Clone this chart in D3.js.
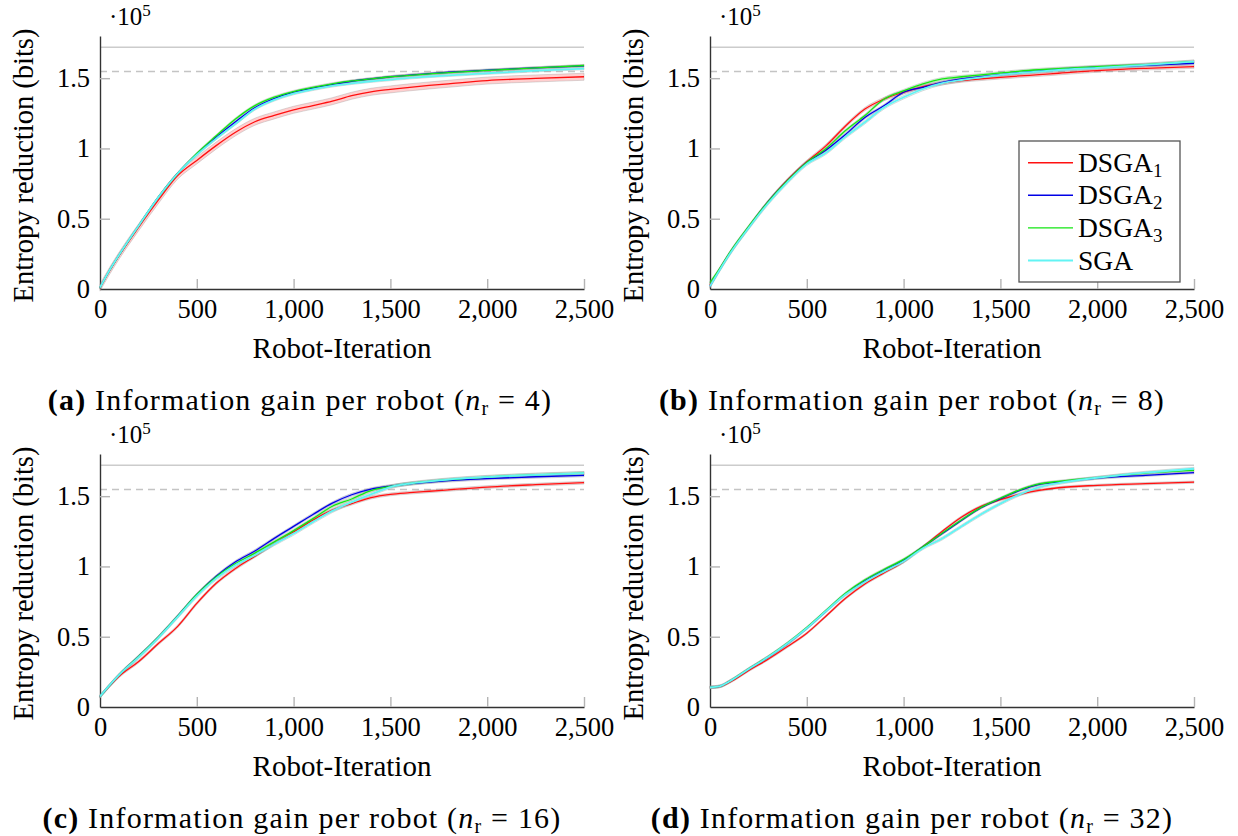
<!DOCTYPE html>
<html>
<head>
<meta charset="utf-8">
<script src="https://cdn.jsdelivr.net/npm/d3@7"></script>
<style>
  body { margin: 0; background: #fff; }
  text { font-family: "Liberation Serif", "DejaVu Serif", serif; fill: #000; }
</style>
</head>
<body>
<svg id="fig" width="1238" height="836"></svg>
<script>
const iters = [0, 50, 100, 200, 300, 400, 500, 600, 700, 800, 900, 1000, 1100, 1200, 1300, 1400, 1500, 1600, 1700, 1800, 2000, 2250, 2500];

const seriesNames = ["DSGA", "DSGA", "DSGA", "SGA"];
const seriesSubs = ["1", "2", "3", ""];
const seriesColors = ["#ff1010", "#0000e6", "#12e612", "#62f4f4"];

// entropy reduction, units of 1e5 bits
// n_r = 4
const nr4_dsga1 = [0.01, 0.13, 0.24, 0.44, 0.63, 0.805, 0.915, 1.02, 1.115, 1.19, 1.235, 1.275, 1.305, 1.336, 1.375, 1.403, 1.42, 1.435, 1.448, 1.46, 1.483, 1.498, 1.51];
const nr4_dsga2 = [0.01, 0.135, 0.245, 0.45, 0.65, 0.82, 0.96, 1.08, 1.19, 1.29, 1.355, 1.40, 1.43, 1.455, 1.478, 1.495, 1.51, 1.522, 1.532, 1.542, 1.557, 1.573, 1.588];
const nr4_dsga3 = [0.01, 0.135, 0.245, 0.45, 0.65, 0.82, 0.965, 1.09, 1.21, 1.305, 1.365, 1.405, 1.435, 1.46, 1.48, 1.495, 1.51, 1.52, 1.53, 1.54, 1.555, 1.573, 1.59];
const nr4_sga   = [0.01, 0.135, 0.245, 0.45, 0.65, 0.82, 0.955, 1.07, 1.175, 1.28, 1.345, 1.39, 1.42, 1.445, 1.463, 1.478, 1.49, 1.502, 1.512, 1.52, 1.535, 1.553, 1.568];
// n_r = 8
const nr8_dsga1 = [0.03, 0.14, 0.25, 0.44, 0.62, 0.775, 0.905, 1.02, 1.16, 1.28, 1.352, 1.40, 1.44, 1.464, 1.483, 1.495, 1.506, 1.516, 1.525, 1.535, 1.554, 1.57, 1.582];
const nr8_dsga2 = [0.02, 0.14, 0.25, 0.44, 0.62, 0.77, 0.90, 0.99, 1.10, 1.22, 1.305, 1.40, 1.435, 1.47, 1.495, 1.51, 1.525, 1.54, 1.552, 1.563, 1.578, 1.592, 1.606];
const nr8_dsga3 = [0.045, 0.145, 0.255, 0.445, 0.62, 0.77, 0.90, 1.0, 1.127, 1.234, 1.352, 1.41, 1.46, 1.495, 1.51, 1.523, 1.537, 1.55, 1.56, 1.568, 1.582, 1.597, 1.618];
const nr8_sga   = [0.02, 0.135, 0.245, 0.435, 0.61, 0.76, 0.89, 0.97, 1.084, 1.186, 1.293, 1.364, 1.423, 1.464, 1.487, 1.506, 1.523, 1.537, 1.548, 1.558, 1.573, 1.594, 1.618];
// n_r = 16
const nr16_dsga1 = [0.075, 0.15, 0.22, 0.324, 0.45, 0.572, 0.737, 0.88, 0.986, 1.073, 1.163, 1.246, 1.33, 1.40, 1.447, 1.49, 1.513, 1.525, 1.535, 1.545, 1.565, 1.582, 1.596];
const nr16_dsga2 = [0.075, 0.155, 0.23, 0.36, 0.495, 0.645, 0.80, 0.93, 1.033, 1.11, 1.20, 1.285, 1.37, 1.45, 1.51, 1.55, 1.572, 1.588, 1.60, 1.61, 1.625, 1.638, 1.648];
const nr16_dsga3 = [0.075, 0.155, 0.23, 0.36, 0.495, 0.645, 0.80, 0.925, 1.02, 1.095, 1.175, 1.255, 1.34, 1.428, 1.48, 1.54, 1.57, 1.59, 1.605, 1.617, 1.636, 1.652, 1.664];
const nr16_sga   = [0.075, 0.155, 0.23, 0.355, 0.49, 0.64, 0.79, 0.915, 1.01, 1.08, 1.16, 1.234, 1.317, 1.395, 1.458, 1.513, 1.565, 1.59, 1.605, 1.618, 1.636, 1.652, 1.664];
// n_r = 32
const nr32_dsga1 = [0.14, 0.145, 0.175, 0.26, 0.34, 0.43, 0.525, 0.648, 0.773, 0.875, 0.955, 1.033, 1.14, 1.25, 1.352, 1.428, 1.475, 1.513, 1.541, 1.56, 1.577, 1.589, 1.60];
const nr32_dsga2 = [0.14, 0.147, 0.182, 0.27, 0.355, 0.45, 0.56, 0.683, 0.804, 0.898, 0.974, 1.045, 1.14, 1.234, 1.329, 1.418, 1.482, 1.541, 1.584, 1.60, 1.628, 1.648, 1.667];
const nr32_dsga3 = [0.14, 0.147, 0.182, 0.272, 0.358, 0.455, 0.565, 0.688, 0.81, 0.905, 0.98, 1.05, 1.14, 1.238, 1.332, 1.42, 1.485, 1.545, 1.587, 1.605, 1.632, 1.664, 1.683];
const nr32_sga   = [0.14, 0.147, 0.182, 0.27, 0.355, 0.452, 0.56, 0.683, 0.80, 0.89, 0.965, 1.035, 1.13, 1.199, 1.286, 1.371, 1.447, 1.513, 1.565, 1.593, 1.631, 1.667, 1.695];

// half width of the shaded bands (same units)
const spread4 = [0.025, 0.008, 0.008, 0.008];
const spread8 = [0.012, 0.01, 0.01, 0.012];
const spread16 = [0.01, 0.01, 0.01, 0.012];
const spread32 = [0.008, 0.008, 0.008, 0.01];

const maxEntropy = 1.72;        // solid grey line
const maxEntropy90 = 1.548;     // dashed grey line
const xTicks = [0, 500, 1000, 1500, 2000, 2500];
const yTicks = [0, 0.5, 1, 1.5];

const panelLetters = ["a", "b", "c", "d"];
const robotCounts = [4, 8, 16, 32];

const panels = [
  { data: [nr4_dsga1, nr4_dsga2, nr4_dsga3, nr4_sga], spread: spread4, left: 100, top: 36, capX: 300, legend: false },
  { data: [nr8_dsga1, nr8_dsga2, nr8_dsga3, nr8_sga], spread: spread8, left: 710, top: 36, capX: 912, legend: true },
  { data: [nr16_dsga1, nr16_dsga2, nr16_dsga3, nr16_sga], spread: spread16, left: 100, top: 454, capX: 302, legend: false },
  { data: [nr32_dsga1, nr32_dsga2, nr32_dsga3, nr32_sga], spread: spread32, left: 710, top: 454, capX: 912, legend: false }
];

const W = 484, H = 253;
const svg = d3.select("#fig");

panels.forEach(function (p, pi) {
  const x = d3.scaleLinear().domain([0, 2500]).range([p.left, p.left + W]);
  const y = d3.scaleLinear().domain([0, 1.8]).range([p.top + H, p.top]);
  const g = svg.append("g");

  // reference lines
  g.append("line")
    .attr("x1", x(0)).attr("x2", x(2500))
    .attr("y1", y(maxEntropy)).attr("y2", y(maxEntropy))
    .attr("stroke", "#cccccc").attr("stroke-width", 1.6);
  g.append("line")
    .attr("x1", x(0)).attr("x2", x(2500))
    .attr("y1", y(maxEntropy90)).attr("y2", y(maxEntropy90))
    .attr("stroke", "#c4c4c4").attr("stroke-width", 1.5)
    .attr("stroke-dasharray", "7,5");

  // axes
  const xAxis = g.append("g")
    .attr("transform", `translate(0,${y(0)})`)
    .call(d3.axisBottom(x).tickValues(xTicks).tickSizeInner(-10).tickSizeOuter(0)
      .tickPadding(10.5).tickFormat(d3.format(",")));
  const yAxis = g.append("g")
    .attr("transform", `translate(${x(0)},0)`)
    .call(d3.axisLeft(y).tickValues(yTicks).tickSizeInner(-10).tickSizeOuter(0)
      .tickPadding(10).tickFormat(function (d) { return String(d); }));
  [xAxis, yAxis].forEach(function (a) {
    a.select(".domain").attr("stroke", "#333").attr("stroke-width", 1.4);
    a.selectAll(".tick line").attr("stroke", "#b4b4b4").attr("stroke-width", 1.4);
    a.selectAll("text").attr("font-size", 26.5).attr("fill", "#000")
      .style("font-family", '"Liberation Serif", serif');
  });
  xAxis.selectAll(".tick").filter(function (d) { return d === 0; }).select("line").remove();
  yAxis.selectAll(".tick").filter(function (d) { return d === 0; }).select("line").remove();

  // bands then lines
  const area = d3.area()
    .x(function (d, i) { return x(iters[i]); })
    .curve(d3.curveMonotoneX);
  const line = d3.line()
    .x(function (d, i) { return x(iters[i]); })
    .y(function (d) { return y(d); })
    .curve(d3.curveMonotoneX);

  p.data.forEach(function (vals, si) {
    const s = p.spread[si];
    g.append("path")
      .attr("d", area.y0(function (d) { return y(d - s); }).y1(function (d) { return y(d + s); })(vals))
      .attr("fill", seriesColors[si]).attr("fill-opacity", 0.2)
      .attr("stroke", "#999").attr("stroke-opacity", 0.35).attr("stroke-width", 1);
  });
  p.data.forEach(function (vals, si) {
    g.append("path")
      .attr("d", line(vals))
      .attr("fill", "none")
      .attr("stroke", seriesColors[si])
      .attr("stroke-width", si === 3 ? 1.8 : 1.3);
  });

  // scale label  ·10^5
  const sc = g.append("text").attr("x", x(0) + 9).attr("y", p.top - 11).attr("font-size", 25);
  sc.append("tspan").text("·10");
  sc.append("tspan").attr("font-size", 17).attr("dy", -9).text("5");

  // axis titles
  g.append("text")
    .attr("transform", `translate(${x(0) - 67},${p.top + H / 2 + 3}) rotate(-90)`)
    .attr("text-anchor", "middle").attr("font-size", 28.5)
    .text("Entropy reduction (bits)");
  g.append("text")
    .attr("x", x(1250)).attr("y", y(0) + 69)
    .attr("text-anchor", "middle").attr("font-size", 29)
    .text("Robot-Iteration");

  // caption
  const cap = g.append("text")
    .attr("x", p.capX).attr("y", y(0) + 121)
    .attr("text-anchor", "middle").attr("font-size", 30)
    .attr("letter-spacing", 1.2);
  cap.append("tspan").attr("font-weight", "bold").text("(" + panelLetters[pi] + ")");
  cap.append("tspan").text(" Information gain per robot (");
  cap.append("tspan").attr("font-style", "italic").text("n");
  cap.append("tspan").attr("font-size", 20).attr("dy", 5).text("r");
  cap.append("tspan").attr("dy", -5).text(" = " + robotCounts[pi] + ")");

  // legend
  if (p.legend) {
    const lg = g.append("g");
    lg.append("rect")
      .attr("x", 1019).attr("y", 141).attr("width", 161).attr("height", 141)
      .attr("fill", "#fff").attr("stroke", "#555").attr("stroke-width", 1.3);
    seriesNames.forEach(function (name, i) {
      const cy = 162.7 + i * 32.6;
      lg.append("line")
        .attr("x1", 1028).attr("x2", 1073).attr("y1", cy).attr("y2", cy)
        .attr("stroke", seriesColors[i]).attr("stroke-width", i === 3 ? 2 : 1.4);
      const t = lg.append("text").attr("x", 1078).attr("y", cy + 9).attr("font-size", 27.5);
      t.append("tspan").text(name);
      if (seriesSubs[i]) t.append("tspan").attr("font-size", 19).attr("dy", 5).text(seriesSubs[i]);
    });
  }
});
</script>
</body>
</html>
